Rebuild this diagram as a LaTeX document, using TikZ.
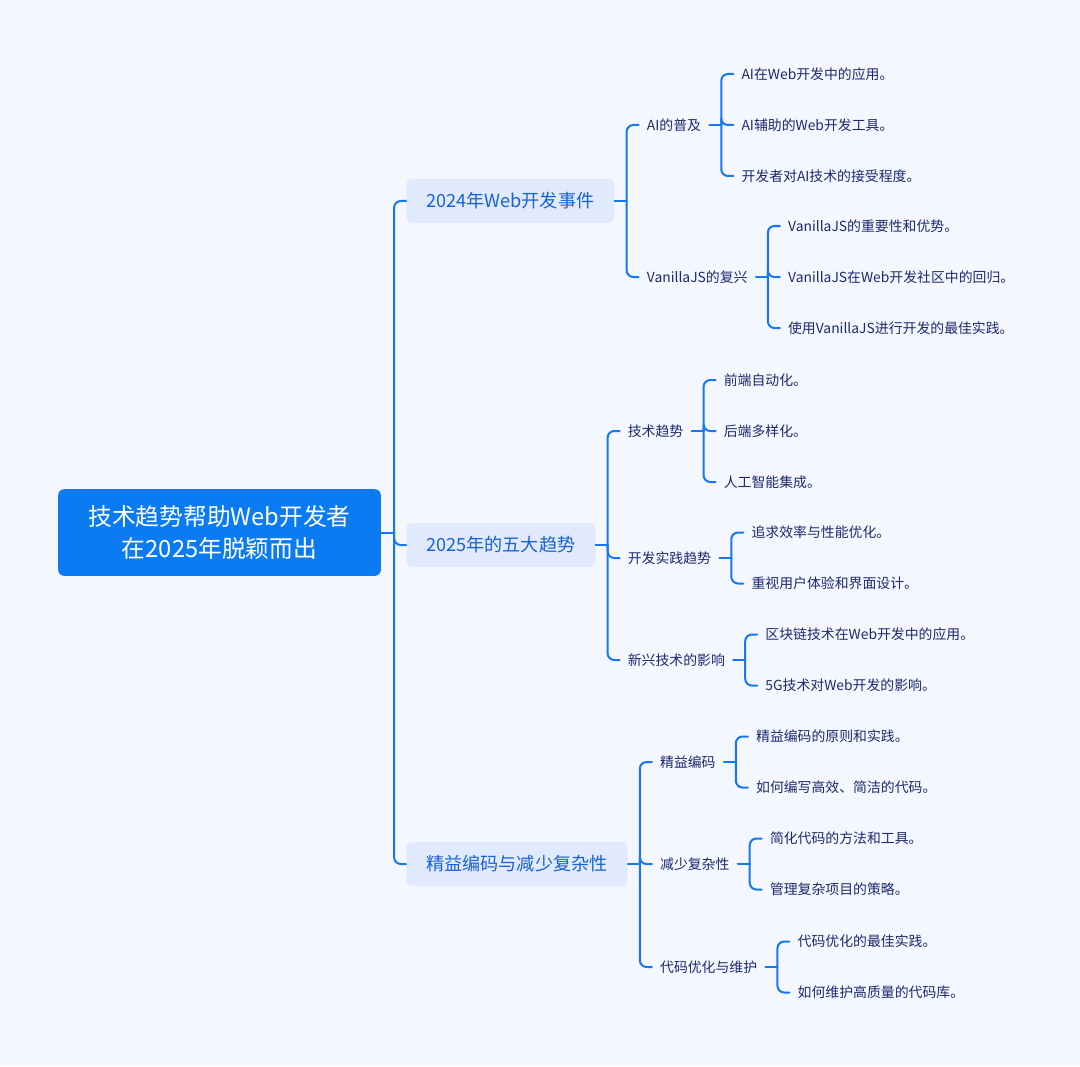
\documentclass[tikz,border=0pt]{standalone}
\usepackage{fontspec}
\setmainfont{Noto Sans CJK SC}
\definecolor{bgcol}{HTML}{F5F7FE}
\definecolor{rootcol}{HTML}{0A7BF2}
\definecolor{topiccol}{HTML}{E1EAFC}
\definecolor{topictext}{HTML}{1762D6}
\definecolor{leafcol}{HTML}{1B2A6E}
\definecolor{linecol}{HTML}{1677F2}
\begin{document}
\begin{tikzpicture}[x=0.75pt, y=-0.75pt, line join=round, line cap=round,
	root/.style={fill=rootcol, text=white, rounded corners=4.5pt, minimum width=242pt, minimum height=65pt, align=center, inner sep=0pt, font=\fontsize{17.8}{23.5}\selectfont},
	topic/.style={fill=topiccol, text=topictext, rounded corners=4.5pt, anchor=west, minimum height=33pt, inner xsep=15pt, font=\fontsize{13.6}{16}\selectfont},
	sub/.style={text=leafcol, anchor=west, inner xsep=6pt, font=\fontsize{10.4}{12}\selectfont},
	leaf/.style={sub},
	conn/.style={draw=linecol, line width=1.5pt, rounded corners=5pt}]
	\fill[bgcol] (0,0) rectangle (1080,1066);
	% root and topics
	\node[root] (main) at (219.5,532.5) {技术趋势帮助Web开发者\\在2025年脱颖而出};
	\node[topic] (t1) at (406,201) {2024年Web开发事件};
	\node[topic] (t2) at (406,545) {2025年的五大趋势};
	\node[topic] (t3) at (406,864) {精益编码与减少复杂性};
	\draw[conn] (main.east) -- ++(13,0) coordinate (ms);
	\draw[conn] (ms) |- (t1.west);
	\draw[conn] (ms) |- (t2.west);
	\draw[conn] (ms) |- (t3.west);
	% 2024
	\draw[conn] (t1.east) -- ++(12,0) coordinate (t1s);
	\path (t1s) ++(12,-76) node[sub] (s11) {AI的普及};
	\path (t1s) ++(12,76) node[sub] (s12) {VanillaJS的复兴};
	\draw[conn] (t1s) |- (s11.west);
	\draw[conn] (t1s) |- (s12.west);
	\draw[conn] (s11.east) -- ++(12,0) coordinate (s11s);
	\path (s11s) ++(12,-51) node[leaf] (l111) {AI在Web开发中的应用。};
	\path (s11s) ++(12,0) node[leaf] (l112) {AI辅助的Web开发工具。};
	\path (s11s) ++(12,51) node[leaf] (l113) {开发者对AI技术的接受程度。};
	\draw[conn] (s11s) |- (l111.west);
	\draw[conn] (s11s) |- (l112.west);
	\draw[conn] (s11s) |- (l113.west);
	\draw[conn] (s12.east) -- ++(12,0) coordinate (s12s);
	\path (s12s) ++(12,-51) node[leaf] (l121) {VanillaJS的重要性和优势。};
	\path (s12s) ++(12,0) node[leaf] (l122) {VanillaJS在Web开发社区中的回归。};
	\path (s12s) ++(12,51) node[leaf] (l123) {使用VanillaJS进行开发的最佳实践。};
	\draw[conn] (s12s) |- (l121.west);
	\draw[conn] (s12s) |- (l122.west);
	\draw[conn] (s12s) |- (l123.west);
	% 2025
	\draw[conn] (t2.east) -- ++(12,0) coordinate (t2s);
	\path (t2s) ++(12,-114) node[sub] (s21) {技术趋势};
	\path (t2s) ++(12,13) node[sub] (s22) {开发实践趋势};
	\path (t2s) ++(12,115) node[sub] (s23) {新兴技术的影响};
	\draw[conn] (t2s) |- (s21.west);
	\draw[conn] (t2s) |- (s22.west);
	\draw[conn] (t2s) |- (s23.west);
	\draw[conn] (s21.east) -- ++(12,0) coordinate (s21s);
	\path (s21s) ++(12,-51) node[leaf] (l211) {前端自动化。};
	\path (s21s) ++(12,0) node[leaf] (l212) {后端多样化。};
	\path (s21s) ++(12,51) node[leaf] (l213) {人工智能集成。};
	\draw[conn] (s21s) |- (l211.west);
	\draw[conn] (s21s) |- (l212.west);
	\draw[conn] (s21s) |- (l213.west);
	\draw[conn] (s22.east) -- ++(12,0) coordinate (s22s);
	\path (s22s) ++(12,-25.5) node[leaf] (l221) {追求效率与性能优化。};
	\path (s22s) ++(12,25.5) node[leaf] (l222) {重视用户体验和界面设计。};
	\draw[conn] (s22s) |- (l221.west);
	\draw[conn] (s22s) |- (l222.west);
	\draw[conn] (s23.east) -- ++(12,0) coordinate (s23s);
	\path (s23s) ++(12,-25.5) node[leaf] (l231) {区块链技术在Web开发中的应用。};
	\path (s23s) ++(12,25.5) node[leaf] (l232) {5G技术对Web开发的影响。};
	\draw[conn] (s23s) |- (l231.west);
	\draw[conn] (s23s) |- (l232.west);
	% lean coding
	\draw[conn] (t3.east) -- ++(12,0) coordinate (t3s);
	\path (t3s) ++(12,-102) node[sub] (s31) {精益编码};
	\path (t3s) ++(12,0) node[sub] (s32) {减少复杂性};
	\path (t3s) ++(12,103) node[sub] (s33) {代码优化与维护};
	\draw[conn] (t3s) |- (s31.west);
	\draw[conn] (t3s) |- (s32.west);
	\draw[conn] (t3s) |- (s33.west);
	\draw[conn] (s31.east) -- ++(12,0) coordinate (s31s);
	\path (s31s) ++(12,-25.5) node[leaf] (l311) {精益编码的原则和实践。};
	\path (s31s) ++(12,25.5) node[leaf] (l312) {如何编写高效、简洁的代码。};
	\draw[conn] (s31s) |- (l311.west);
	\draw[conn] (s31s) |- (l312.west);
	\draw[conn] (s32.east) -- ++(12,0) coordinate (s32s);
	\path (s32s) ++(12,-25.5) node[leaf] (l321) {简化代码的方法和工具。};
	\path (s32s) ++(12,25.5) node[leaf] (l322) {管理复杂项目的策略。};
	\draw[conn] (s32s) |- (l321.west);
	\draw[conn] (s32s) |- (l322.west);
	\draw[conn] (s33.east) -- ++(12,0) coordinate (s33s);
	\path (s33s) ++(12,-25.5) node[leaf] (l331) {代码优化的最佳实践。};
	\path (s33s) ++(12,25.5) node[leaf] (l332) {如何维护高质量的代码库。};
	\draw[conn] (s33s) |- (l331.west);
	\draw[conn] (s33s) |- (l332.west);
\end{tikzpicture}
\end{document}
